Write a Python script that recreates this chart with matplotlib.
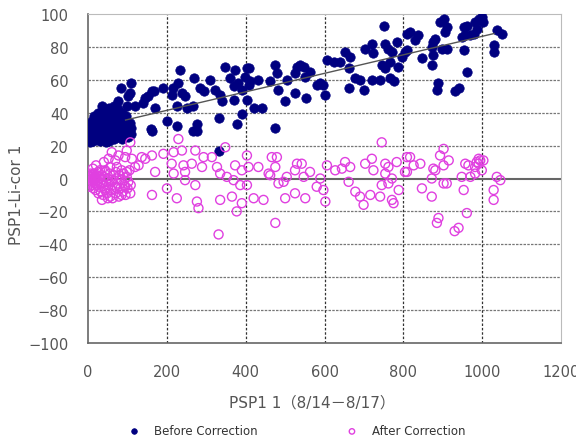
import matplotlib
matplotlib.use("Agg")
import matplotlib.pyplot as plt
import numpy as np

plt.rcParams['font.family'] = ['DejaVu Sans', 'Noto Sans CJK KR']

# Before Correction (blue dots)
before_x = [3, 5, 6, 8, 10, 10, 12, 14, 15, 16, 18, 20, 20, 22, 24, 25, 27, 28, 30, 30,
            32, 34, 35, 36, 38, 40, 40, 42, 44, 45, 46, 48, 50, 50, 52, 54, 55, 56, 58, 60,
            60, 62, 64, 65, 66, 68, 70, 70, 72, 74, 75, 76, 78, 80, 80, 82, 84, 85, 86, 88,
            90, 90, 92, 94, 96, 98, 100, 100, 102, 105, 108, 110, 25, 35, 15, 5, 45, 65, 85, 95,
            232, 109, 84, 107, 102, 77, 53, 98, 119, 145, 153, 162, 166, 140, 170, 189,
            214, 216, 229, 225, 239, 246, 250, 269, 284, 293, 310, 266, 276, 267, 200, 225, 160,
            322, 335, 339, 331, 348, 373, 360, 369, 381, 390, 398, 407, 369, 390, 377,
            403, 407, 411, 432, 403, 420, 441, 462, 475, 479, 483, 504, 500,
            530, 538, 547, 525, 551, 563, 525, 552, 580, 589, 597, 602, 473,
            606, 623, 640, 652, 665, 661, 661, 678, 690, 701,
            703, 720, 724, 754, 762, 750, 745, 754, 766, 771, 720, 741, 766, 775, 783, 786,
            809, 805, 796, 817, 838, 830, 809, 893, 902, 910, 906, 881, 876, 872, 898, 910,
            876, 847, 872, 953, 961, 957, 948, 982, 991, 999, 1003, 986, 978, 970, 953,
            1037, 1050, 1029, 1029, 961, 889, 885, 940, 930, 162, 276, 331]
before_y = [28, 32, 25, 30, 27, 35, 23, 29, 33, 26, 31, 24, 36, 28, 32, 26, 30, 38, 23, 34,
            27, 31, 25, 40, 29, 33, 24, 27, 36, 30, 42, 25, 32, 28, 38, 23, 34, 29, 26, 31,
            40, 27, 35, 24, 30, 33, 27, 38, 31, 25, 29, 42, 34, 26, 30, 37, 28, 32, 24, 30,
            27, 35, 33, 26, 30, 28, 32, 25, 29, 34, 27, 31, 40, 44, 38, 22, 22, 44, 40, 38,
            66, 58, 55, 52, 50, 47, 43, 44, 44, 49, 50, 53, 53, 46, 43, 55,
            51, 55, 58, 44, 52, 50, 43, 61, 55, 53, 60, 44, 33, 29, 35, 32, 30,
            54, 51, 47, 37, 68, 66, 61, 56, 58, 54, 62, 67, 48, 39, 33,
            67, 57, 59, 60, 48, 43, 43, 59, 69, 64, 54, 60, 47,
            68, 69, 68, 64, 62, 65, 52, 49, 57, 58, 57, 51, 31,
            72, 71, 71, 77, 74, 67, 55, 61, 60, 54,
            79, 82, 76, 82, 79, 93, 69, 67, 71, 77, 60, 60, 61, 59, 83, 68,
            88, 77, 74, 89, 87, 84, 78, 95, 97, 92, 89, 85, 83, 80, 79, 79,
            75, 73, 69, 92, 93, 87, 86, 95, 97, 98, 95, 91, 88, 87, 78,
            90, 88, 81, 77, 65, 58, 54, 55, 53, 29, 29, 17]

# After Correction (magenta open circles)
after_x = [2, 3, 4, 5, 6, 7, 8, 9, 10, 11, 12, 13, 14, 15, 16, 17, 18, 19, 20, 21,
           22, 23, 24, 25, 26, 28, 30, 32, 34, 36, 38, 40, 42, 44, 46, 48, 50, 52, 55, 58,
           60, 62, 65, 68, 70, 72, 75, 78, 80, 82, 85, 88, 90, 92, 95, 98, 100, 102, 105, 108,
           30, 20, 40, 60, 70, 12, 50, 35,
           229, 107, 98, 77, 52, 69, 94, 111, 56, 73, 43, 85, 98, 136, 145, 162, 191, 128, 119,
           170, 217, 238, 272, 293, 314, 212, 242, 263, 289, 327, 348, 217, 246, 272, 246,
           200, 162, 225, 276, 280, 335, 352, 369, 386, 373, 390, 365, 335, 390, 377, 331,
           43, 73, 94, 107, 85, 35, 60, 26, 56,
           403, 407, 432, 403, 466, 479, 475, 458, 462, 504, 483, 496, 420, 445, 500, 525, 551,
           475, 530, 542, 525, 563, 547, 580, 589, 597, 602, 606, 627, 644, 652, 665, 661, 678,
           690, 699, 716, 741, 703, 720, 724, 754, 762, 783, 745, 754, 771, 745, 762, 788, 771,
           775, 809, 804,
           817, 826, 843, 809, 893, 902, 915, 902, 881, 876, 872, 847, 872, 902, 910, 948, 970,
           953, 957, 965, 982, 991, 995, 1003, 986, 991, 999, 982, 1037, 1046, 1029, 1029,
           961, 889, 885, 940, 930]
after_y = [-2, 2, -5, 0, 3, -3, -1, 1, -4, 2, -2, 0, -6, 3, -1, 1, -3, -7, 0, 2,
           -4, -1, 1, -2, 4, -5, 0, -8, 2, -3, -10, 1, -6, 4, -2, -9, 0, -4, 3, -7,
           -1, -12, 2, -5, -9, 0, -3, -11, 2, -6, -1, -8, 3, -4, -10, 1, -6, -2, 5, -4,
           5, 8, 10, 16, 4, 6, -12, -13,
           24, 22, 17, 14, 12, 11, 13, 12, 7, 7, 5, 5, 4, 13, 12, 14, 15, 8, 7,
           4, 16, 17, 17, 13, 13, 9, 8, 9, 7, 7, 19, 3, 4, -4, -1,
           -6, -10, -12, -14, -18, 3, 1, -1, -4, 8, 5, -11, -13, -15, -20, -34,
           -7, -6, -5, -9, -10, -3, -2, -9, -11,
           14, 7, 7, -4, 13, 13, 7, 3, 2, 1, -3, -2, -12, -13, -12, -9, -12,
           -27, 9, 9, 5, 4, 1, -5, 0, -7, -14, 8, 5, 6, 10, 7, -2, -8,
           -11, -16, -10, -11, 9, 12, 5, 9, 7, 10, 22, 3, 0, -4, -3, -7, -13,
           -15, 13, 4,
           13, 8, 9, 4, 14, 18, 11, 8, 5, 6, 0, -6, -11, -3, -3, 1, 1,
           -7, 9, 8, 7, 9, 11, 11, 10, 12, 5, 3, 1, -1, -7, -13,
           -21, -24, -27, -30, -32]

x_ticks = [0, 200, 400, 600, 800, 1000, 1200]
y_ticks = [-100, -80, -60, -40, -20, 0, 20, 40, 60, 80, 100]
trend_start, trend_end = 95, 1030

fig = plt.figure(figsize=(5.76, 4.39), dpi=100)
ax = fig.add_axes([0.153, 0.2164, 0.821, 0.7494])

ax.set_xlim(0, 1200)
ax.set_ylim(-100, 100)
ax.set_xticks(x_ticks)
ax.set_yticks(y_ticks)

# grid
for yv in y_ticks[1:-1]:
    if yv != 0:
        ax.axhline(yv, color='#777777', lw=0.9, ls=(0, (2, 1)), zorder=1)
for xv in x_ticks[1:-1]:
    ax.axvline(xv, color='#333333', lw=0.9, ls=(0, (2, 1.5)), zorder=1)
ax.axhline(0, color='#666666', lw=1.5, zorder=1)

ax.scatter(before_x, before_y, s=46, color='#000080', edgecolors='#000080',
           linewidths=0.5, zorder=3, label='Before Correction')
ax.scatter(after_x, after_y, s=42, facecolors='none', edgecolors='#e040e0',
           linewidths=1.0, zorder=3, label='After Correction')

# linear trend of the uncorrected data
coef = np.polyfit(before_x, before_y, 1)
tx = np.array([trend_start, trend_end])
ax.plot(tx, np.polyval(coef, tx), color='#555555', lw=1.0, zorder=4)

for side in ['top', 'right']:
    ax.spines[side].set_color('#bbbbbb')
for side in ['left', 'bottom']:
    ax.spines[side].set_color('#666666')
    ax.spines[side].set_linewidth(1.2)

ax.tick_params(length=0, pad=15, labelsize=10.5, labelcolor='#555555')
ax.tick_params(axis='y', pad=14)

ax.set_ylabel('PSP1-Li-cor 1', fontsize=11, color='#555555')
ax.yaxis.set_label_coords(-0.136, 0.453)
fig.text(312 / 576, 1 - 403 / 439, 'PSP1 1（8/14－8/17）', fontsize=11,
         color='#555555', ha='center', va='center')

fig.legend(loc='center', bbox_to_anchor=(0.51, 1 - 432 / 439), ncol=2,
           frameon=False, fontsize=8.5, handletextpad=0.7, columnspacing=7,
           markerscale=0.6, labelcolor='#333333')

fig.savefig('out.png', dpi=100)
